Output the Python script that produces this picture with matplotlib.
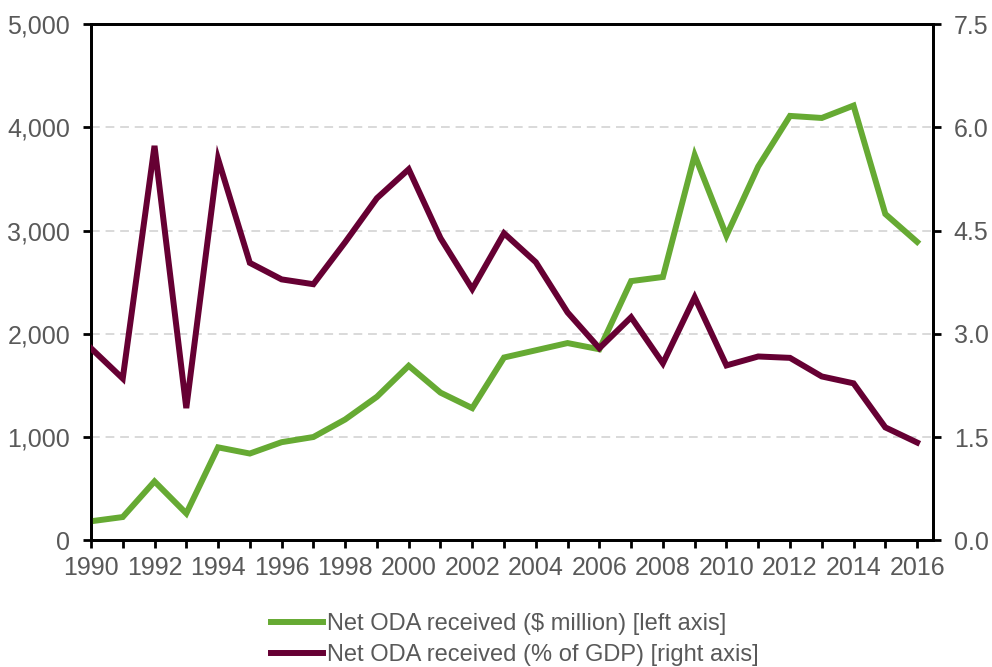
import matplotlib
matplotlib.use("Agg")
import matplotlib.pyplot as plt

years = list(range(1990, 2017))
oda_usd = [184, 225, 570, 260, 900, 840, 950, 1000, 1170, 1390, 1690, 1430, 1280,
           1770, 1840, 1910, 1850, 2510, 2550, 3730, 2950, 3620, 4110, 4090, 4210,
           3160, 2890]
oda_gdp = [2.79, 2.35, 5.73, 1.92, 5.54, 4.03, 3.79, 3.72, 4.33, 4.97, 5.39, 4.39,
           3.65, 4.46, 4.04, 3.31, 2.79, 3.24, 2.57, 3.53, 2.54, 2.67, 2.65, 2.38,
           2.28, 1.64, 1.42]
left_ticks = [0, 1000, 2000, 3000, 4000, 5000]
right_ticks = [0.0, 1.5, 3.0, 4.5, 6.0, 7.5]
labels = ["Net ODA received ($ million) [left axis]",
          "Net ODA received (% of GDP) [right axis]"]

green = "#66aa33"
purple = "#660033"
gray = "#595959"

plt.rcParams['font.family'] = ['Liberation Sans', 'DejaVu Sans']

fig = plt.figure(figsize=(9.92, 6.67), dpi=100)
ax = fig.add_axes([0.0917, 0.190, 0.8488, 0.774])
ax2 = ax.twinx()

l1, = ax.plot(years, oda_usd, color=green, lw=4.3, solid_joinstyle='miter', zorder=3)
l2, = ax2.plot(years, oda_gdp, color=purple, lw=4.3, solid_joinstyle='miter', zorder=3)

ax.set_xlim(1990, 2016.5)
ax.set_ylim(0, 5000)
ax2.set_ylim(0, 7.5)
ax.set_yticks(left_ticks)
ax.set_yticklabels([f"{v:,}" for v in left_ticks])
ax2.set_yticks(right_ticks)
ax2.set_yticklabels([f"{v:.1f}" for v in right_ticks])
ax.set_xticks(years)
ax.set_xticklabels([str(y) if y % 2 == 0 else "" for y in years])

for v in left_ticks[1:-1]:
    ax.axhline(v, color="#d9d9d9", lw=1.4, ls=(0, (4.5, 3)), zorder=1)

for a in (ax, ax2):
    for s in a.spines.values():
        s.set_color("black")
        s.set_linewidth(2.0)
    a.tick_params(colors="black", labelcolor=gray, labelsize=18, width=2.0, length=6)
ax.tick_params(axis='x', pad=5)
ax.tick_params(axis='y', pad=9)
ax2.tick_params(axis='y', pad=9)

fig.legend([l1, l2], labels, loc='upper center', bbox_to_anchor=(0.519, 0.081),
           frameon=False, fontsize=17, handlelength=2.2, handletextpad=0.2,
           labelspacing=0.4, labelcolor=gray, borderaxespad=0, borderpad=0)

fig.savefig("out.png", dpi=100)
